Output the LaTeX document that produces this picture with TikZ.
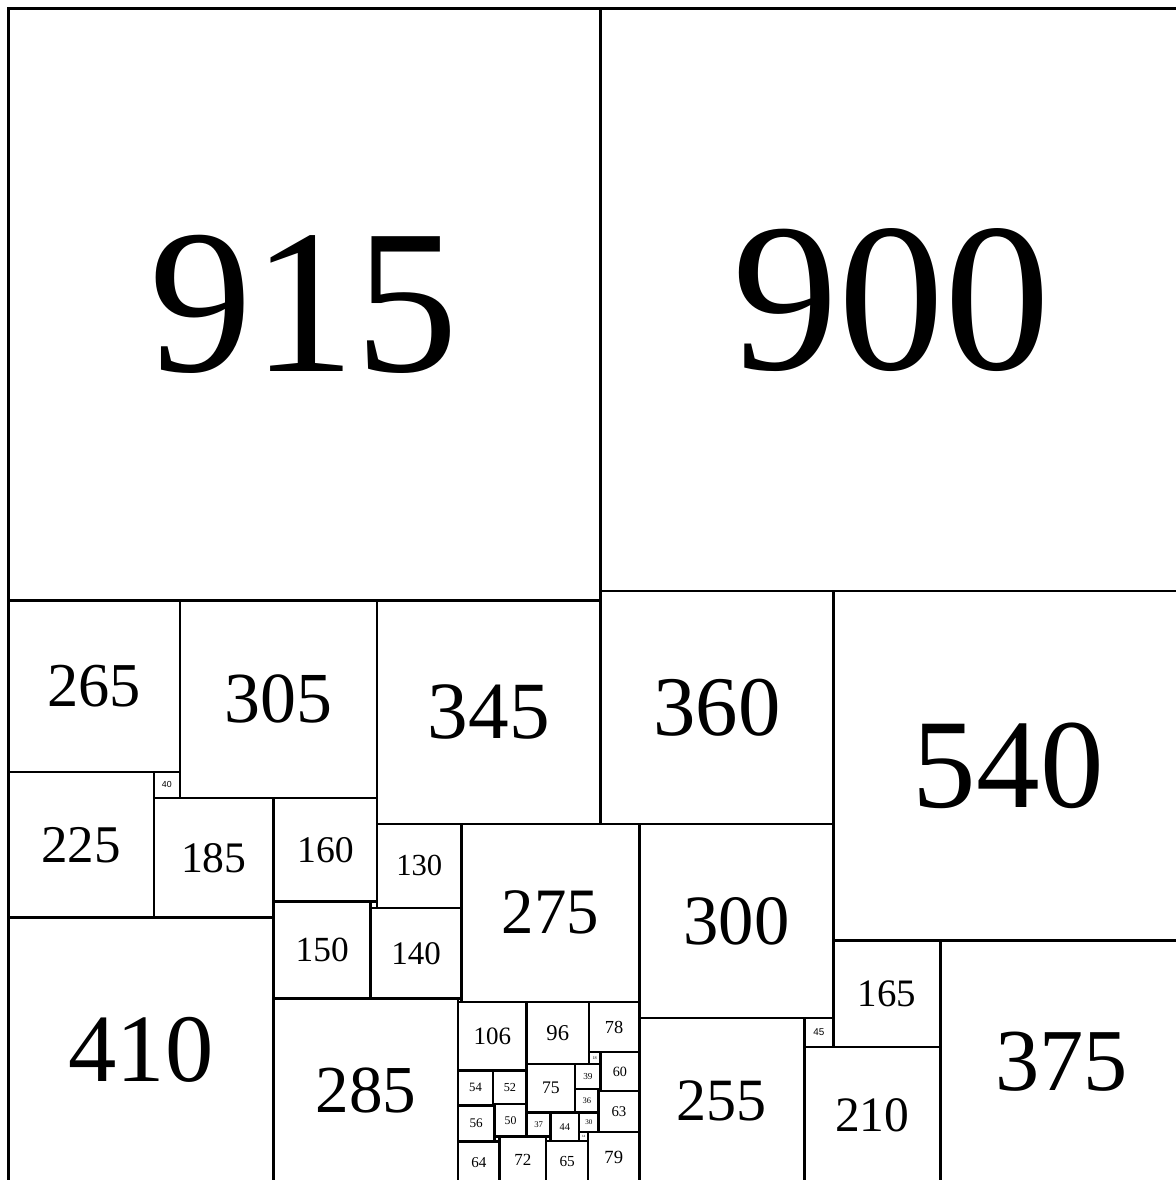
\documentclass[tikz,border=0pt]{standalone}
\usepackage{fontspec}
\setmainfont{Liberation Serif}
\newfontfamily\sqsans{Liberation Sans}

\tikzset{
  sqline/.style={line width=1.4pt},
  sqlabel/.style={inner sep=0pt, font=\fontsize{#1}{#1}\selectfont},
}

\begin{document}
\begin{tikzpicture}[x=0.012944cm, y=-0.012944cm]
\fill[white] (-12.8,-12.8) rectangle (1804.2,1810.4);
\useasboundingbox (-12.8,-12.8) rectangle (1804.2,1810.4);
\clip (-12.8,-12.8) rectangle (1804.2,1810.4);
% squares with a printed side: x/y/side
\foreach \x/\y/\s in {0/0/915, 915/0/900,
    0/915/265, 265/915/305, 570/915/345, 915/900/360, 1275/900/540,
    0/1180/225, 225/1220/185, 410/1220/160, 570/1260/130, 700/1260/275,
    975/1260/300, 1275/1440/165, 1440/1440/375, 0/1405/410,
    410/1380/150, 560/1390/140, 410/1530/285,
    695/1535/106, 801/1535/96, 897/1535/78, 915/1613/60, 897/1613/18,
    801/1631/75, 876/1631/39, 695/1641/54, 749/1641/52, 876/1670/36,
    912/1673/63, 695/1695/56, 751/1693/50, 801/1706/37, 838/1706/44,
    882/1706/30, 882/1736/14, 896/1736/79, 831/1750/65, 759/1743/72,
    695/1751/64, 975/1560/255, 1230/1605/210}{
  \pgfmathsetmacro{\fs}{(\s==915 ? 0.128 : 0.134)*\s}
  \draw[sqline] (\x,\y) rectangle ++(\s,\s);
  \node[sqlabel=\fs pt] (sq\s) at (\x+\s/2,\y+\s/2) {\s};
}
% two small ones in sans
\foreach \x/\y/\s in {225/1180/40, 1230/1560/45}{
  \pgfmathsetmacro{\fs}{0.125*\s}
  \draw[sqline] (\x,\y) rectangle ++(\s,\s);
  \node[sqlabel=\fs pt, font=\sqsans\fontsize{\fs pt}{\fs pt}\selectfont] (sq\s) at (\x+\s/2,\y+\s/2) {\s};
}
% tiny ones, no label
\foreach \x/\y/\s in {560/1380/10, 695/1530/5, 912/1670/3, 749/1693/2,
    831/1743/7, 751/1743/8}{
  \draw[sqline] (\x,\y) rectangle ++(\s,\s);
}
\end{tikzpicture}
\end{document}
